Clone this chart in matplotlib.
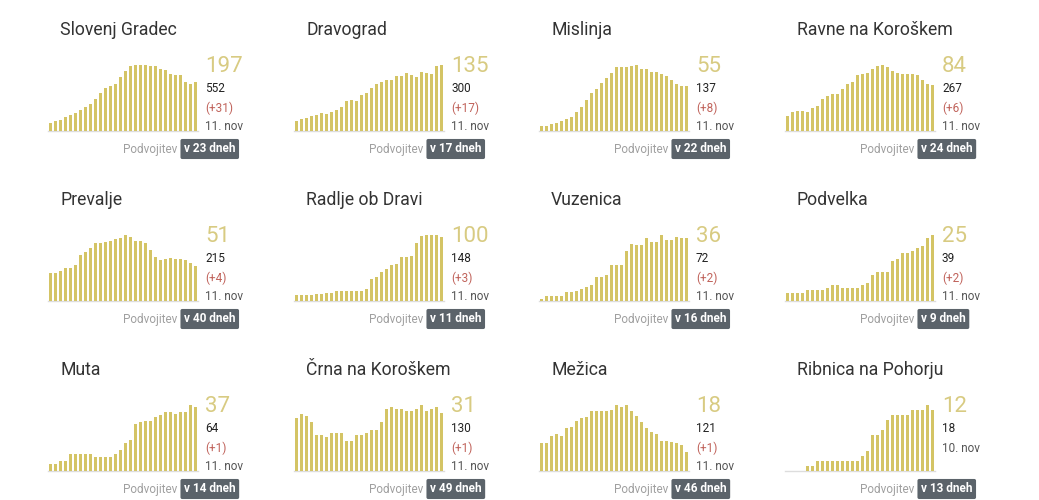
import matplotlib.pyplot as plt
import numpy as np

plt.rcParams['font.family'] = ['Roboto', 'DejaVu Sans']

W, H = 1039, 500

names = ['Slovenj Gradec', 'Dravograd', 'Mislinja', 'Ravne na Koroškem',
         'Prevalje', 'Radlje ob Dravi', 'Vuzenica', 'Podvelka',
         'Muta', 'Črna na Koroškem', 'Mežica', 'Ribnica na Pohorju']

slovenj_gradec = [34, 39, 45, 55, 65, 74, 85, 96, 110, 131, 154, 172, 183, 190, 220,
                  241, 262, 265, 267, 266, 262, 262, 252, 245, 231, 227, 227, 200, 190, 197]
dravograd = [21, 24, 26, 30, 33, 36, 35, 39, 43, 50, 62, 64, 62, 74, 78,
             87, 97, 100, 104, 104, 112, 112, 118, 114, 111, 120, 118, 116, 133, 135]
mislinja = [6, 6, 8, 10, 12, 15, 17, 23, 29, 38, 47, 51, 59, 65, 71,
            79, 79, 78, 80, 81, 76, 76, 72, 73, 70, 67, 63, 58, 55, 55]
ravne = [28, 34, 36, 37, 35, 42, 46, 58, 63, 67, 67, 77, 86, 89, 101,
         103, 105, 113, 118, 120, 116, 110, 105, 104, 103, 104, 101, 92, 86, 84]
prevalje = [40, 41, 43, 48, 48, 52, 66, 70, 77, 83, 84, 85, 86, 89, 91,
            95, 92, 86, 87, 83, 73, 64, 59, 61, 62, 61, 60, 59, 55, 51]
radlje = [9, 9, 9, 9, 11, 11, 12, 12, 16, 16, 16, 16, 16, 16, 18,
          34, 38, 45, 50, 56, 58, 69, 69, 71, 91, 102, 103, 103, 103, 100]
vuzenica = [1, 3, 3, 3, 3, 5, 5, 6, 7, 8, 9, 14, 14, 15, 21,
            21, 21, 29, 33, 32, 32, 36, 34, 34, 38, 35, 35, 37, 36, 36]
podvelka = [3, 3, 3, 3, 4, 4, 4, 4, 5, 6, 6, 5, 5, 5, 5,
            6, 7, 10, 11, 11, 11, 15, 16, 18, 18, 19, 20, 21, 24, 25]
muta = [4, 4, 6, 6, 10, 10, 10, 10, 10, 8, 8, 8, 8, 10, 12,
        16, 18, 27, 28, 29, 29, 31, 32, 34, 34, 33, 34, 34, 38, 37]
crna = [28, 30, 29, 26, 19, 19, 18, 20, 20, 20, 16, 16, 19, 19, 20,
        22, 22, 26, 33, 34, 33, 33, 32, 32, 33, 35, 32, 33, 34, 31]
mezica = [26, 26, 32, 34, 32, 40, 41, 46, 49, 50, 55, 55, 55, 55, 56,
          61, 59, 61, 55, 51, 45, 40, 36, 34, 28, 28, 27, 26, 24, 18]
ribnica = [0, 0, 0, 0, 1, 1, 2, 2, 2, 2, 2, 2, 2, 2, 2,
           3, 4, 7, 7, 8, 10, 11, 11, 11, 11, 12, 12, 12, 13, 12]

series = [slovenj_gradec, dravograd, mislinja, ravne, prevalje, radlje,
          vuzenica, podvelka, muta, crna, mezica, ribnica]

totals = ['552', '300', '137', '267', '215', '148', '72', '39', '64', '130', '121', '18']
changes = ['(+31)', '(+17)', '(+8)', '(+6)', '(+4)', '(+3)', '(+2)', '(+2)',
           '(+1)', '(+1)', '(+1)', None]
dates = ['11. nov'] * 11 + ['10. nov']
doubling = ['v 23 dneh', 'v 17 dneh', 'v 22 dneh', 'v 24 dneh',
            'v 40 dneh', 'v 11 dneh', 'v 16 dneh', 'v 9 dneh',
            'v 14 dneh', 'v 49 dneh', 'v 46 dneh', 'v 13 dneh']

bar_color = '#d4c465'
big_color = '#d8cb82'
red = '#c0625a'
gray = '#555555'

col_x = [48, 294, 539, 785]
row_y = [0, 170, 340]

fig = plt.figure(figsize=(W / 100, H / 100), dpi=100)
fig.patch.set_facecolor('white')


def fx(x):
    return x / W


def fy(y):
    return 1 - y / H


for i, vals in enumerate(series):
    r, c = divmod(i, 4)
    x0 = col_x[c]
    dy = row_y[r]

    ax = fig.add_axes([fx(x0), fy(131 + dy), 150 / W, 66 / H])
    ax.bar(np.arange(len(vals)), vals, width=0.72, color=bar_color, linewidth=0)
    ax.axhline(0, color='#dddddd', lw=1, zorder=0, clip_on=False)
    ax.set_xlim(-0.5, len(vals) - 0.5)
    ax.set_ylim(0, max(vals))
    ax.axis('off')

    fig.text(fx(x0 + 12), fy(30 + dy), names[i], fontsize=12.7, color='#333333',
             va='center', ha='left')

    tx = x0 + 157
    fig.text(fx(tx), fy(67 + dy), str(vals[-1]), fontsize=16, color=big_color,
             va='center', ha='left')
    fig.text(fx(tx), fy(89 + dy), totals[i], fontsize=8.5, color='#222222',
             va='center', ha='left')
    if changes[i] is not None:
        fig.text(fx(tx), fy(108 + dy), changes[i], fontsize=8.5, color=red,
                 va='center', ha='left')
        fig.text(fx(tx), fy(127 + dy), dates[i], fontsize=8.5, color=gray,
                 va='center', ha='left')
    else:
        fig.text(fx(tx), fy(108 + dy), dates[i], fontsize=8.5, color=gray,
                 va='center', ha='left')

    fig.text(fx(x0 + 129), fy(149 + dy), 'Podvojitev', fontsize=8.5, color='#a0a0a0',
             va='center', ha='right')
    fig.text(fx(x0 + 136), fy(149 + dy), doubling[i], fontsize=8.5, color='white',
             fontweight='bold', va='center', ha='left',
             bbox=dict(boxstyle='round,pad=0.3,rounding_size=0.15', fc='#5b636a', ec='none'))

fig.savefig('out.png', dpi=100, facecolor='white')
